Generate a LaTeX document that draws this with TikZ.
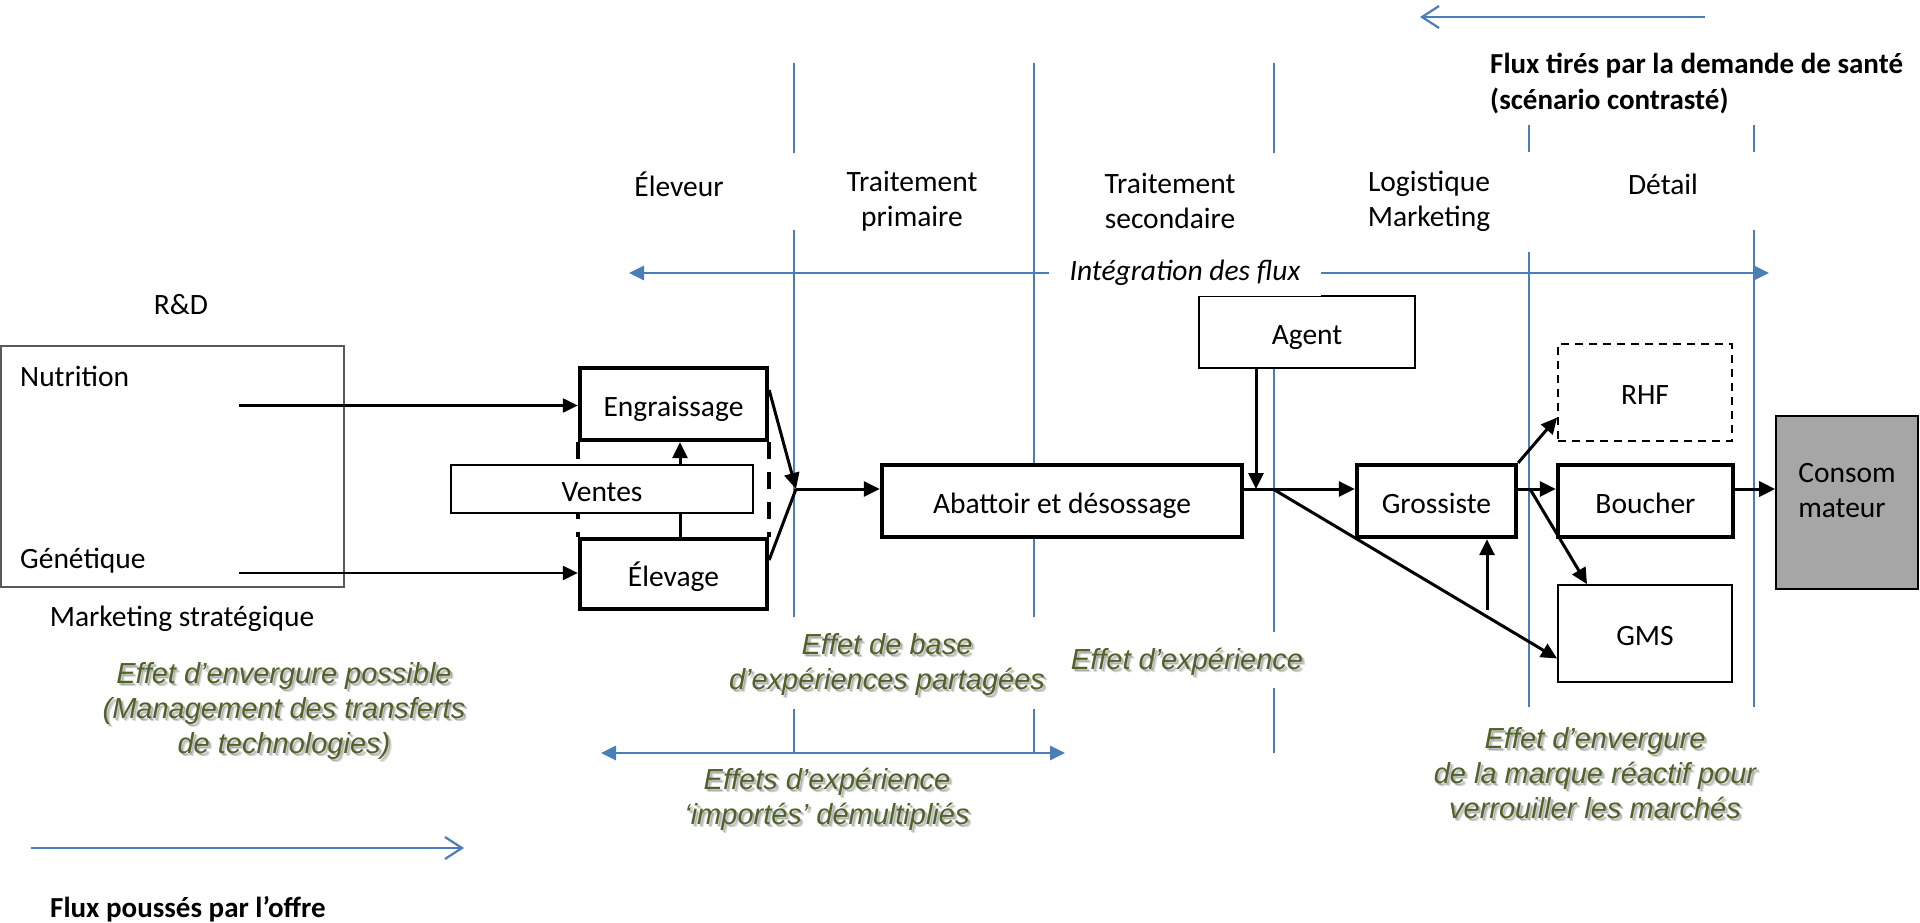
\documentclass[tikz,border=0pt]{standalone}
\usepackage{fontspec}
\setmainfont{Carlito}
\newfontfamily\effetfont{Liberation Sans}
\usetikzlibrary{arrows.meta}
\definecolor{divblue}{RGB}{74,126,187}
\definecolor{olive}{RGB}{79,98,40}
\definecolor{consgray}{RGB}{166,166,166}

% green comment text with its soft drop shadow
\newcommand\effet[3]{%
  \node[effetshadow,opacity=0.16,xshift=3.2pt,yshift=-3.2pt] at #2 {#3};
  \node[effetshadow,opacity=0.20,xshift=1.8pt,yshift=-1.8pt] at #2 {#3};
  \node[effettxt] (#1) at #2 {#3};
}

\tikzset{
  base/.style={font=\fontsize{29.5}{35}\selectfont},
  plaintext/.style={base, inner sep=0pt, align=center},
  boxtext/.style={base, text height=24pt, text depth=0pt},
  thickbox/.style={draw, line width=4.3pt, fill=white, inner sep=0pt, boxtext},
  thinbox/.style={draw, line width=1.7pt, fill=white, inner sep=0pt, boxtext},
  divider/.style={draw=divblue, line width=1.8pt},
  flow/.style={line width=3pt, -{Triangle[length=16pt,width=15pt]}},
  plainflow/.style={line width=3pt},
  feed/.style={line width=2.2pt, -{Triangle[length=15pt,width=14pt]}},
  dashlink/.style={line width=4pt, dash pattern=on 17pt off 13pt},
  bluearrow/.style={draw=divblue, line width=2.8pt},
  openflux/.style={draw=divblue, line width=2.2pt, -{Straight Barb[length=17pt,width=22pt]}},
  effettxt/.style={font=\effetfont\itshape\fontsize{29}{35}\selectfont, text=olive, align=center, inner sep=0pt},
  effetshadow/.style={effettxt, text=black},
}

\begin{document}
\begin{tikzpicture}[x=1pt,y=-1pt]
\useasboundingbox (0,0) rectangle (1920,923);

% ---- stage dividers
\draw[divider] (794,63) -- (794,153) (794,230) -- (794,617) (794,709) -- (794,753);
\draw[divider] (1034,63) -- (1034,617) (1034,709) -- (1034,753);
\draw[divider] (1274,63) -- (1274,153) (1274,298) -- (1274,632) (1274,688) -- (1274,753);
\draw[divider] (1529,125) -- (1529,152) (1529,252) -- (1529,707);
\draw[divider] (1754,125) -- (1754,152) (1754,230) -- (1754,707);

% ---- stage headings
\node[plaintext] (h1) at (679,184) {Éleveur};
\node[plaintext] (h2) at (912,201) {Traitement\\primaire};
\node[plaintext] (h3) at (1170,201) {Traitement\\secondaire};
\node[plaintext] (h4) at (1429,201) {Logistique\\Marketing};
\node[plaintext] (h5) at (1663,184) {Détail};

% ---- pull flow (top right)
\coordinate (tA) at (1705,17);
\coordinate (tB) at (1420,17);
\draw[openflux] (tA) -- (tB);
\node[base, font=\fontsize{29}{36}\selectfont\bfseries, anchor=west, align=left, inner sep=0pt] (pull) at (1490,84)
  {Flux tirés par la demande de santé\\(scénario contrasté)};

% ---- R&D block
\node[draw=black!65, line width=1.3pt, minimum width=343pt, minimum height=241pt, inner sep=0pt] (rd) at (172.5,466.5) {};
\node[plaintext] (rdt) at (181,305) {R\&D};
\node[plaintext, anchor=west] (nut) at (20,376) {Nutrition};
\node[plaintext, anchor=west] (gen) at (20,561) {Génétique};
\node[plaintext] (mks) at (182,619) {Marketing stratégique};

% ---- breeding boxes
\node[thickbox, minimum width=187pt, minimum height=72pt] (engr) at (673.5,404) {Engraissage};
\node[thickbox, minimum width=187pt, minimum height=70pt] (elev) at (673.5,574) {Élevage};
\draw[dashlink] (engr.south west) -- (elev.north west);
\draw[dashlink] (engr.south east) -- (elev.north east);
\coordinate (vx) at (680,489);
\draw[flow] (elev.north -| vx) -- (engr.south -| vx);
\node[thinbox, minimum width=302pt, minimum height=48pt] (ventes) at (602,489) {Ventes};

\coordinate (n0) at (239,405.5);
\coordinate (g0) at (239,573);
\draw[feed] (n0) -- (n0 -| engr.west);
\draw[feed] (g0) -- (g0 -| elev.west);

% ---- processing chain
\coordinate (J) at (796,489);
\node[thickbox, minimum width=360pt, minimum height=72pt] (abat) at (1062,501) {Abattoir et désossage};
\node[thinbox, minimum width=216pt, minimum height=72pt] (agent) at (1307,332) {Agent};
\node[thickbox, minimum width=159pt, minimum height=72pt] (gros) at (1436.5,501) {Grossiste};
\node[thinbox, dash pattern=on 8pt off 6pt, minimum width=174pt, minimum height=97pt] (rhf) at (1645,392.5) {RHF};
\node[thickbox, minimum width=175pt, minimum height=72pt] (bouch) at (1645.5,501) {Boucher};
\node[thinbox, minimum width=174pt, minimum height=97pt] (gms) at (1645,633.5) {GMS};
\node[draw, line width=1.7pt, fill=consgray, minimum width=142pt, minimum height=173pt, inner sep=0pt] (cons) at (1847,502.5) {};
\node[base, align=left, inner sep=0pt] (const) at ([yshift=12pt]cons.center) {Consom\\mateur};

\draw[flow] ([yshift=14pt]engr.east) -- (J);
\draw[plainflow] ([yshift=14pt]elev.east) -- (J);
\draw[flow] (J) -- (J -| abat.west);
\draw[flow] (J -| abat.east) -- (J -| gros.west);
\coordinate (jA) at (1256,489);
\draw[flow] (agent.south -| jA) -- (jA);
\coordinate (jD) at (1273,489);
\draw[flow] (jD) -- ([yshift=-25pt]gms.west);
\draw[flow] (J -| gros.east) -- (J -| bouch.west);
\draw[flow] (gros.north east) -- ([yshift=-25pt]rhf.west);
\coordinate (jG) at (1530,489);
\draw[flow] (jG) -- ([xshift=-58pt]gms.north);
\coordinate (up0) at (1487,610);
\draw[flow] (up0) -- (gros.south -| up0);
\draw[flow] (J -| bouch.east) -- (J -| cons.west);

% ---- integration of flows
\node[base, fill=white, inner sep=0pt, minimum width=272pt, minimum height=46pt] (integ) at (1185,273) {\itshape Intégration des flux};
\coordinate (iL) at (629,273);
\coordinate (iR) at (1769,273);
\draw[bluearrow, -{Triangle[length=15pt,width=14pt]}] (integ.west) -- (iL);
\draw[bluearrow, -{Triangle[length=15pt,width=14pt]}] (integ.east) -- (iR);

% ---- imported experience span
\coordinate (b1) at (601,753);
\coordinate (b2) at (1065,753);
\draw[bluearrow, {Triangle[length=15pt,width=14pt]}-{Triangle[length=15pt,width=14pt]}] (b1) -- (b2);

% ---- push flow (bottom left)
\coordinate (fA) at (31,848);
\coordinate (fB) at (464,848);
\draw[openflux] (fA) -- (fB);
\node[base, font=\fontsize{29}{35}\selectfont\bfseries, anchor=west, inner sep=0pt] (push) at (50,909) {Flux poussés par l’offre};

% ---- effects
\effet{e1}{(284,711)}{Effet d’envergure possible\\(Management des transferts\\de technologies)}
\effet{e2}{(887,664.5)}{Effet de base\\d’expériences partagées}
\effet{e3}{(1187,662)}{Effet d’expérience}
\effet{e4}{(827,799.5)}{Effets d’expérience\\‘importés’ démultipliés}
\effet{e5}{(1595,773)}{Effet d’envergure\\de la marque réactif pour\\verrouiller les marchés}

\end{tikzpicture}
\end{document}
